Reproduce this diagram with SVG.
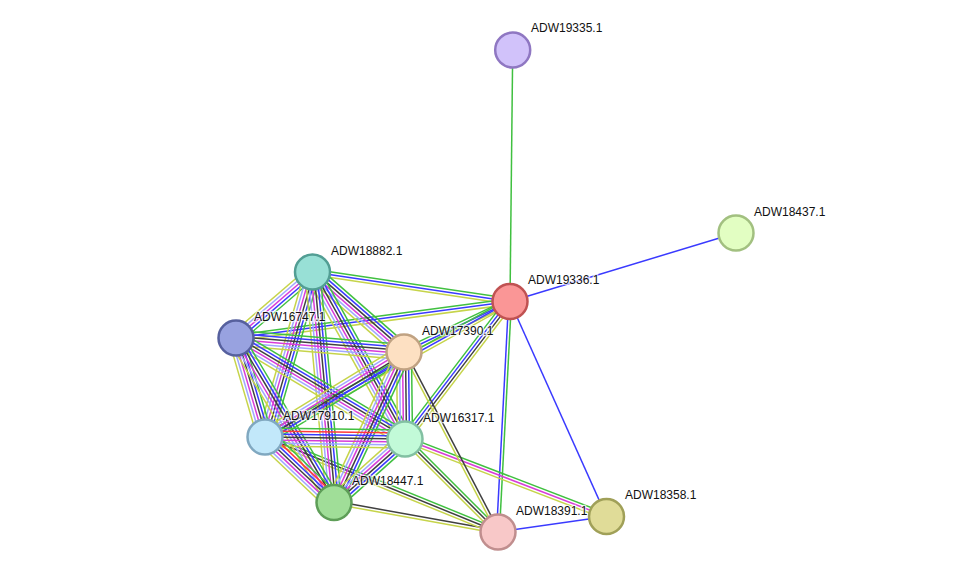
<svg xmlns="http://www.w3.org/2000/svg" xmlns:xlink="http://www.w3.org/1999/xlink" width="976" height="578" viewBox="0 0 976 578">
<style>
line{vector-effect:non-scaling-stroke;stroke-width:1.5;fill:none}
.g{stroke:#40c040}.r{stroke:#ff3a3a}.b{stroke:#3a3aff}.k{stroke:#404040}.m{stroke:#d83cd8}.l{stroke:#a0a8ff}.y{stroke:#c6d44a}
.node circle{stroke-width:2.5}
.node text{font-family:"Liberation Sans",Arial,sans-serif;font-size:12px;fill:#111;stroke:#fff;stroke-width:2.5;stroke-opacity:0.7;paint-order:stroke}
</style>
<defs>
<g id="gb"><line class="g" x1="0" x2="1" y1="-1.3" y2="-1.3"/><line class="b" x1="0" x2="1" y1="1.3" y2="1.3"/></g>
<g id="ky"><line class="k" x1="0" x2="1" y1="-1.3" y2="-1.3"/><line class="y" x1="0" x2="1" y1="1.3" y2="1.3"/></g>
<g id="gby"><line class="g" x1="0" x2="1" y1="-2.6" y2="-2.6"/><line class="b" x1="0" x2="1" y1="0" y2="0"/><line class="y" x1="0" x2="1" y1="2.6" y2="2.6"/></g>
<g id="gmy"><line class="g" x1="0" x2="1" y1="-2.6" y2="-2.6"/><line class="m" x1="0" x2="1" y1="0" y2="0"/><line class="y" x1="0" x2="1" y1="2.6" y2="2.6"/></g>
<g id="gky"><line class="g" x1="0" x2="1" y1="-2.6" y2="-2.6"/><line class="k" x1="0" x2="1" y1="0" y2="0"/><line class="y" x1="0" x2="1" y1="2.6" y2="2.6"/></g>
<g id="gbky"><line class="g" x1="0" x2="1" y1="-3.9" y2="-3.9"/><line class="b" x1="0" x2="1" y1="-1.3" y2="-1.3"/><line class="k" x1="0" x2="1" y1="1.3" y2="1.3"/><line class="y" x1="0" x2="1" y1="3.9" y2="3.9"/></g>
<g id="b5"><line class="g" x1="0" x2="1" y1="-5.2" y2="-5.2"/><line class="b" x1="0" x2="1" y1="-2.6" y2="-2.6"/><line class="m" x1="0" x2="1" y1="0" y2="0"/><line class="l" x1="0" x2="1" y1="2.6" y2="2.6"/><line class="y" x1="0" x2="1" y1="5.2" y2="5.2"/></g>
<g id="b6"><line class="g" x1="0" x2="1" y1="-6.5" y2="-6.5"/><line class="b" x1="0" x2="1" y1="-3.9" y2="-3.9"/><line class="k" x1="0" x2="1" y1="-1.3" y2="-1.3"/><line class="m" x1="0" x2="1" y1="1.3" y2="1.3"/><line class="l" x1="0" x2="1" y1="3.9" y2="3.9"/><line class="y" x1="0" x2="1" y1="6.5" y2="6.5"/></g>
<g id="b7"><line class="g" x1="0" x2="1" y1="-7.8" y2="-7.8"/><line class="r" x1="0" x2="1" y1="-5.2" y2="-5.2"/><line class="b" x1="0" x2="1" y1="-2.6" y2="-2.6"/><line class="k" x1="0" x2="1" y1="0" y2="0"/><line class="m" x1="0" x2="1" y1="2.6" y2="2.6"/><line class="l" x1="0" x2="1" y1="5.2" y2="5.2"/><line class="y" x1="0" x2="1" y1="7.8" y2="7.8"/></g>
</defs>
<rect width="976" height="578" fill="#fff"/>
<g id="edges">
<line class="g" x1="512.7" y1="50" x2="510" y2="301.5"/>
<line class="b" x1="510" y1="301.5" x2="736" y2="233"/>
<line class="b" x1="510" y1="301.5" x2="606.5" y2="516.5"/>
<line class="b" x1="498" y1="532" x2="606.5" y2="516.5"/>
<use xlink:href="#gb" transform="translate(510 301.5) rotate(92.98) scale(230.8 1.1)"/>
<use xlink:href="#gby" transform="translate(312.5 272) rotate(8.49) scale(199.7 1.1)"/>
<use xlink:href="#gby" transform="translate(236 338) rotate(-7.59) scale(276.4 1.1)"/>
<use xlink:href="#gby" transform="translate(404 352) rotate(-25.47) scale(117.4 1.1)"/>
<use xlink:href="#gby" transform="translate(265 437) rotate(-28.95) scale(280 1.1)"/>
<use xlink:href="#gbky" transform="translate(405 439) rotate(-52.63) scale(173 1.1)"/>
<use xlink:href="#gmy" transform="translate(405 439) rotate(21.04) scale(215.9 1.1)"/>
<use xlink:href="#gky" transform="translate(405 439) rotate(45) scale(131.5 1.1)"/>
<use xlink:href="#ky" transform="translate(404 352) rotate(62.43) scale(203.1 1.1)"/>
<use xlink:href="#ky" transform="translate(334 502.5) rotate(10.2) scale(166.6 1.1)"/>
<use xlink:href="#gky" transform="translate(265 437) rotate(22.18) scale(251.6 1.1)"/>
<use xlink:href="#b5" transform="translate(312.5 272) rotate(139.21) scale(101 1.15)"/>
<use xlink:href="#b6" transform="translate(312.5 272) rotate(41.16) scale(121.5 1.15)"/>
<use xlink:href="#b6" transform="translate(312.5 272) rotate(106.06) scale(171.7 1.15)"/>
<use xlink:href="#b6" transform="translate(312.5 272) rotate(61.02) scale(190.9 1.15)"/>
<use xlink:href="#b6" transform="translate(312.5 272) rotate(84.67) scale(231.5 1.15)"/>
<use xlink:href="#b6" transform="translate(236 338) rotate(4.76) scale(168.6 1.15)"/>
<use xlink:href="#b6" transform="translate(236 338) rotate(73.67) scale(103.2 1.15)"/>
<use xlink:href="#b6" transform="translate(236 338) rotate(30.86) scale(196.9 1.15)"/>
<use xlink:href="#b6" transform="translate(236 338) rotate(59.21) scale(191.5 1.15)"/>
<use xlink:href="#b6" transform="translate(404 352) rotate(148.55) scale(162.9 1.15)"/>
<use xlink:href="#b6" transform="translate(404 352) rotate(89.34) scale(87 1.15)"/>
<use xlink:href="#b6" transform="translate(404 352) rotate(114.94) scale(166 1.15)"/>
<use xlink:href="#b7" transform="translate(265 437) rotate(0.82) scale(140 1.15)"/>
<use xlink:href="#b7" transform="translate(265 437) rotate(43.51) scale(95.1 1.15)"/>
<use xlink:href="#b6" transform="translate(405 439) rotate(138.19) scale(95.3 1.15)"/>
</g>
<g id="ADW19335.1" class="node"><circle cx="512.7" cy="50" r="17.5" fill="#d1c2fa" stroke="#8f77c2"/><text x="531" y="32">ADW19335.1</text></g>
<g id="ADW18437.1" class="node"><circle cx="736" cy="233" r="17.5" fill="#e2fec2" stroke="#a2c080"/><text x="754" y="216">ADW18437.1</text></g>
<g id="ADW19336.1" class="node"><circle cx="510" cy="301.5" r="17.5" fill="#fa9696" stroke="#c05252"/><text x="528" y="284">ADW19336.1</text></g>
<g id="ADW18882.1" class="node"><circle cx="312.5" cy="272" r="17.5" fill="#98e0d6" stroke="#529e94"/><text x="331" y="255">ADW18882.1</text></g>
<g id="ADW16747.1" class="node"><circle cx="236" cy="338" r="17.5" fill="#98a2e0" stroke="#56609e"/><text x="254" y="321">ADW16747.1</text></g>
<g id="ADW17390.1" class="node"><circle cx="404" cy="352" r="17.5" fill="#fde0c2" stroke="#c0a282"/><text x="422" y="335">ADW17390.1</text></g>
<g id="ADW17910.1" class="node"><circle cx="265" cy="437" r="17.5" fill="#c2e8fa" stroke="#80a8c0"/><text x="283" y="420">ADW17910.1</text></g>
<g id="ADW16317.1" class="node"><circle cx="405" cy="439" r="17.5" fill="#c2fad8" stroke="#82c0a2"/><text x="423" y="422">ADW16317.1</text></g>
<g id="ADW18447.1" class="node"><circle cx="334" cy="502.5" r="17.5" fill="#a0de98" stroke="#5e9e58"/><text x="352" y="485">ADW18447.1</text></g>
<g id="ADW18391.1" class="node"><circle cx="498" cy="532" r="17.5" fill="#f8c8c8" stroke="#c08e8e"/><text x="516" y="515">ADW18391.1</text></g>
<g id="ADW18358.1" class="node"><circle cx="606.5" cy="516.5" r="17.5" fill="#e0dc98" stroke="#a0a058"/><text x="625" y="499">ADW18358.1</text></g>
</svg>
